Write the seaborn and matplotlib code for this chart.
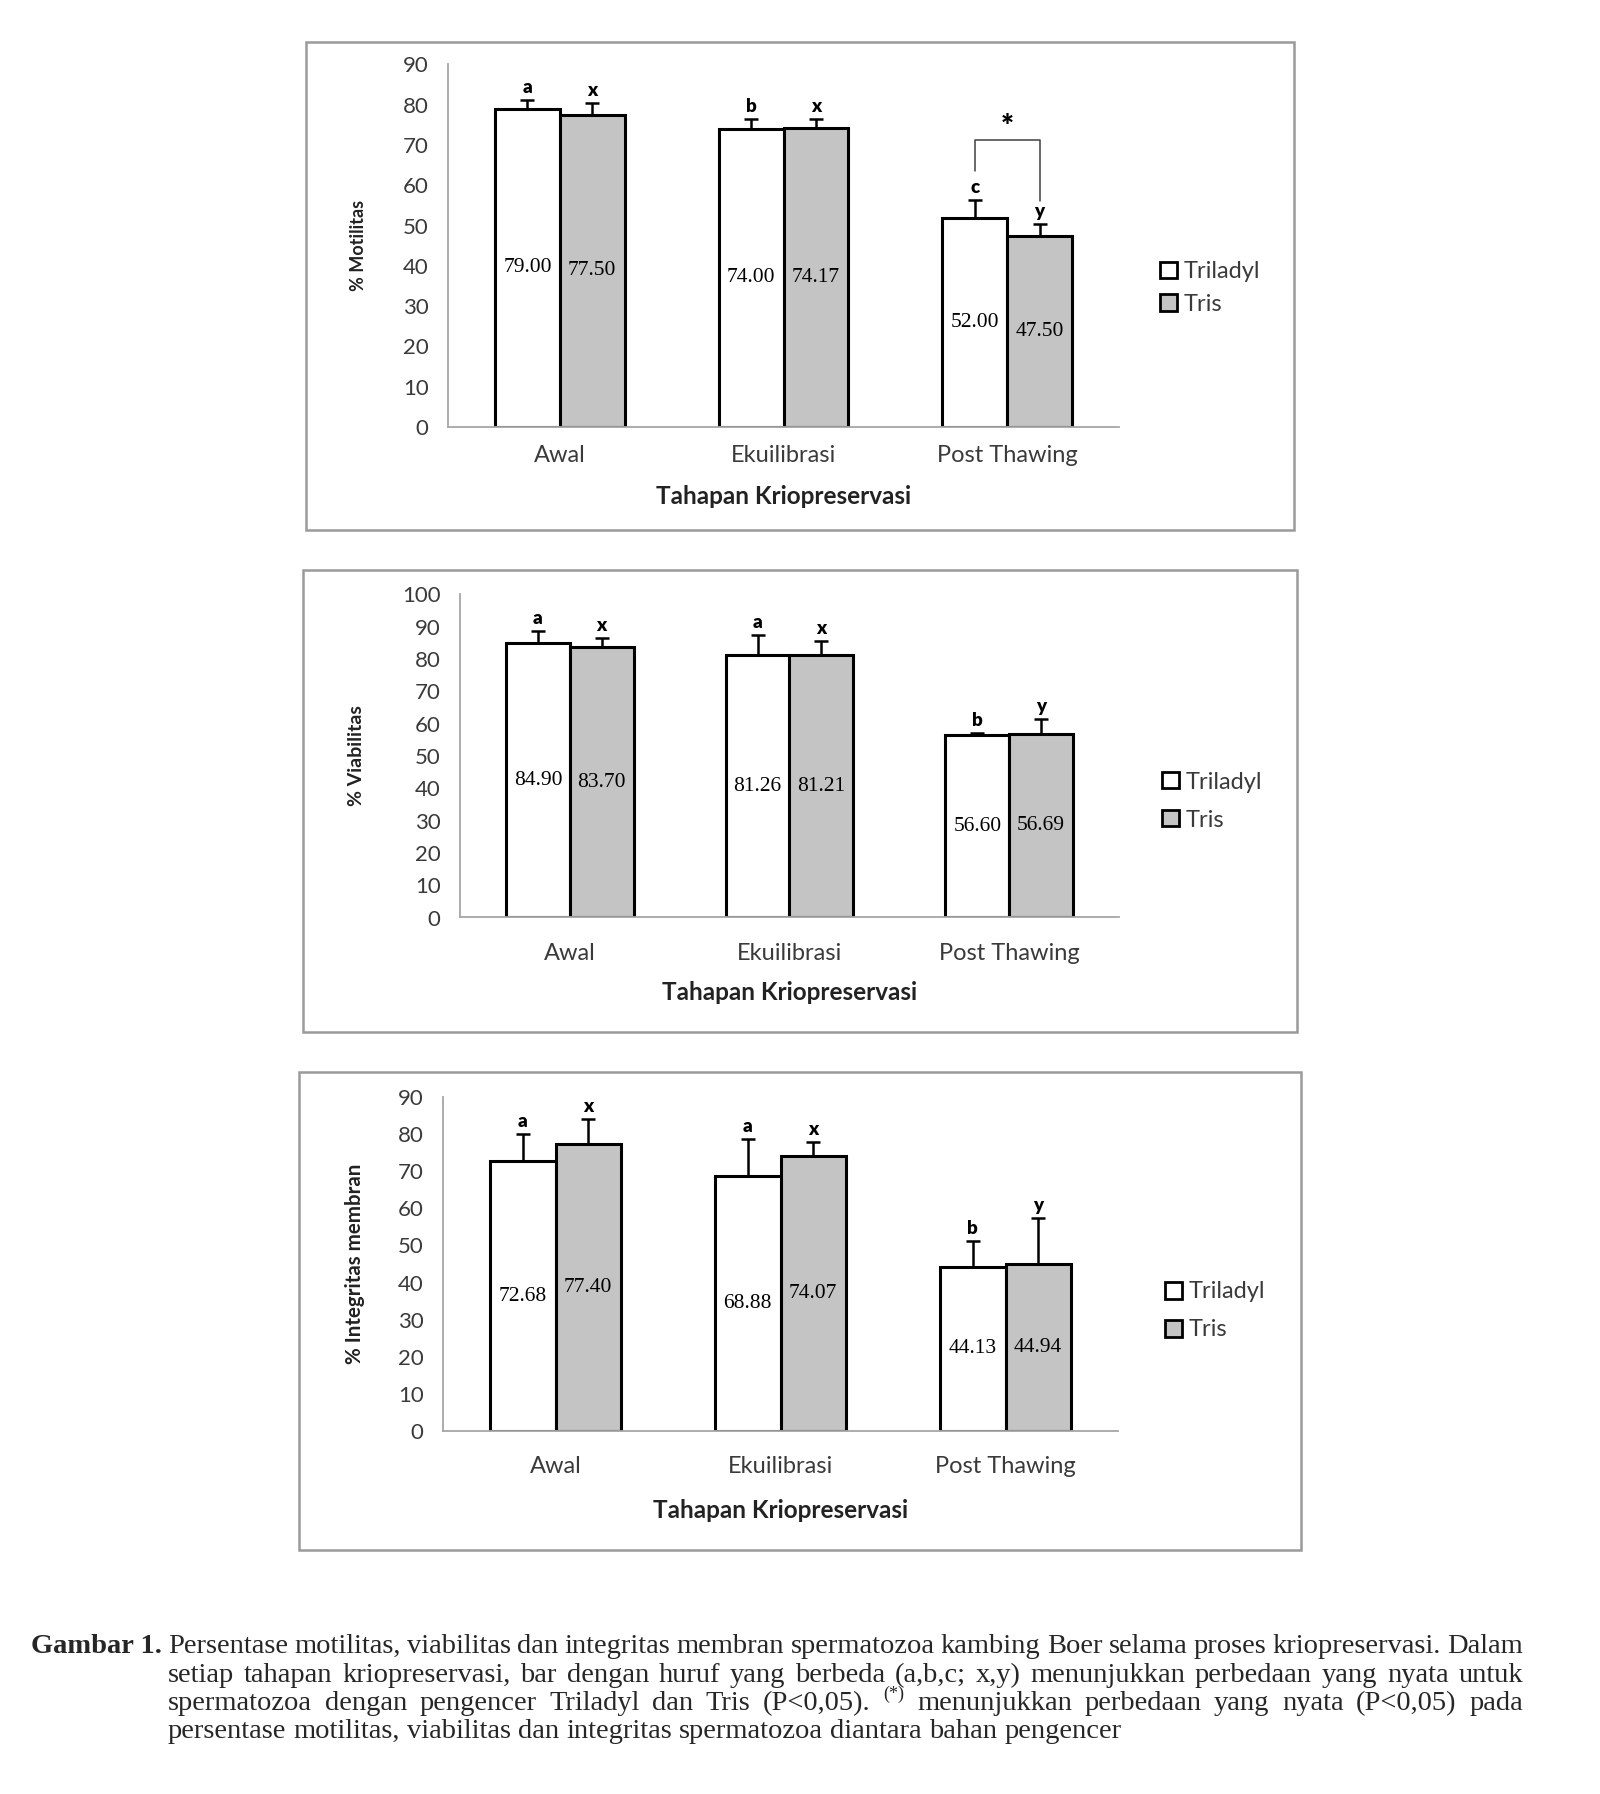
import numpy as np
import pandas as pd
import matplotlib
matplotlib.use("Agg")
import matplotlib.pyplot as plt
from matplotlib.patches import Rectangle, Patch
import seaborn as sns

# ---------------- data ----------------
stages = ["Awal", "Ekuilibrasi", "Post Thawing"]
diluents = ["Triladyl", "Tris"]

motil_triladyl = [79.00, 74.00, 52.00]
motil_tris = [77.50, 74.17, 47.50]
motil_err_triladyl = [2.3, 2.4, 4.3]
motil_err_tris = [3.0, 2.2, 2.8]
motil_let_triladyl = ["a", "b", "c"]
motil_let_tris = ["x", "x", "y"]

viab_triladyl = [84.90, 81.26, 56.60]
viab_tris = [83.70, 81.21, 56.69]
viab_err_triladyl = [3.85, 6.35, 0.6]
viab_err_tris = [2.9, 4.4, 4.8]
viab_let_triladyl = ["a", "a", "b"]
viab_let_tris = ["x", "x", "y"]

integ_triladyl = [72.68, 68.88, 44.13]
integ_tris = [77.40, 74.07, 44.94]
integ_err_triladyl = [7.3, 9.9, 7.2]
integ_err_tris = [6.8, 3.8, 12.5]
integ_let_triladyl = ["a", "a", "b"]
integ_let_tris = ["x", "x", "y"]

ylabels = ["% Motilitas", "% Viabilitas", "% Integritas membran"]
xlabel = "Tahapan Kriopreservasi"

caption_head = "Gambar 1."
caption_lines = [
    "Persentase motilitas, viabilitas dan integritas membran spermatozoa kambing Boer selama proses kriopreservasi. Dalam",
    "setiap tahapan kriopreservasi, bar dengan huruf yang berbeda (a,b,c; x,y) menunjukkan perbedaan yang nyata untuk",
    "spermatozoa dengan pengencer Triladyl dan Tris (P<0,05). ^(*) menunjukkan perbedaan yang nyata (P<0,05) pada",
    "persentase motilitas, viabilitas dan integritas spermatozoa diantara bahan pengencer",
]

# ---------------- style ----------------
sns.set_style("white")
plt.rcParams["font.family"] = ["Lato", "DejaVu Sans"]

W, H = 1600, 1794
fig = plt.figure(figsize=(W / 100, H / 100), dpi=100)
fig.patch.set_facecolor("white")

GRAY = "#c4c4c4"
AXC = "#a6a6a6"
TXT = "#3a3a3a"

panels = [
    dict(tri=motil_triladyl, tris=motil_tris, etri=motil_err_triladyl, etris=motil_err_tris,
         ltri=motil_let_triladyl, ltris=motil_let_tris, ylab=ylabels[0], ymax=90,
         ax=(448, 1119, 64.5, 427), box=(306, 1294, 42, 530), ylab_x=358, ylab_fs=13,
         xt_pad=13, xlab_y=496, leg=(1160, 288), leg_sp=0.5),
    dict(tri=viab_triladyl, tris=viab_tris, etri=viab_err_triladyl, etris=viab_err_tris,
         ltri=viab_let_triladyl, ltris=viab_let_tris, ylab=ylabels[1], ymax=100,
         ax=(460, 1119, 594.5, 917.5), box=(303, 1297, 570, 1032), ylab_x=357, ylab_fs=14,
         xt_pad=18, xlab_y=992, leg=(1162, 801), leg_sp=0.72),
    dict(tri=integ_triladyl, tris=integ_tris, etri=integ_err_triladyl, etris=integ_err_tris,
         ltri=integ_let_triladyl, ltris=integ_let_tris, ylab=ylabels[2], ymax=90,
         ax=(443, 1118, 1097.3, 1430.7), box=(299, 1301, 1072, 1550), ylab_x=355, ylab_fs=14.8,
         xt_pad=18, xlab_y=1510, leg=(1165, 1311), leg_sp=0.72),
]

for pi, p in enumerate(panels):
    x0, x1, yt, yb = p["ax"]
    ax = fig.add_axes([x0 / W, 1 - yb / H, (x1 - x0) / W, (yb - yt) / H])

    df = pd.DataFrame({
        "stage": stages * 2,
        "diluent": [diluents[0]] * 3 + [diluents[1]] * 3,
        "value": list(p["tri"]) + list(p["tris"]),
    })
    sns.barplot(data=df, x="stage", y="value", hue="diluent", order=stages,
                hue_order=diluents, palette={"Triladyl": "white", "Tris": GRAY},
                saturation=1, errorbar=None, width=0.58, gap=0,
                edgecolor="black", linewidth=2.2, legend=False, ax=ax, zorder=2)

    errs = [p["etri"], p["etris"]]
    lets = [p["ltri"], p["ltris"]]
    centers = []
    bar_conts = list(ax.containers)
    for ci, cont in enumerate(bar_conts):
        xs = [b.get_x() + b.get_width() / 2 for b in cont.patches]
        hs = [b.get_height() for b in cont.patches]
        centers.append(xs)
        ax.errorbar(xs, hs, yerr=[np.zeros(len(hs)), errs[ci]], fmt="none",
                    ecolor="black", elinewidth=1.8, capsize=5, capthick=1.8, zorder=3)
        for x, h, e, l in zip(xs, hs, errs[ci], lets[ci]):
            ax.annotate(l, (x, h + e), xytext=(0, 5), textcoords="offset points",
                        ha="center", va="baseline", fontsize=13.5, fontweight="heavy",
                        color="black", annotation_clip=False)
        ax.bar_label(cont, labels=[f"{h:.2f}" for h in hs], label_type="center",
                     fontsize=15.5, family="Liberation Serif", color="black")

    # significance bracket in motility panel
    if pi == 0:
        xl, xr = centers[0][2], centers[1][2]
        ax.plot([xl, xl, xr, xr], [63.5, 71.3, 71.3, 56.0], color="#404040", lw=1.1,
                zorder=3, clip_on=False)
        ax.text((xl + xr) / 2, 74.6, "*", ha="center", va="center", fontsize=22,
                fontweight="heavy", color="black")

    ax.set_xlim(-0.5, 2.5)
    ax.set_ylim(0, p["ymax"])
    ax.set_yticks(np.arange(0, p["ymax"] + 1, 10))
    ax.set_xticks([-0.5, 0.5, 1.5, 2.5])
    ax.set_xticklabels([])
    ax.set_xticks([0, 1, 2], minor=True)
    ax.set_xticklabels(stages, minor=True)
    ax.tick_params(axis="x", which="major", length=5, width=1.2, color=AXC, direction="out")
    ax.tick_params(axis="x", which="minor", length=0, pad=p["xt_pad"], labelsize=17,
                   labelcolor=TXT)
    ax.tick_params(axis="y", length=6, width=1.2, color=AXC, direction="out",
                   labelsize=16, labelcolor=TXT, pad=8)
    for s in ["top", "right"]:
        ax.spines[s].set_visible(False)
    for s in ["left", "bottom"]:
        ax.spines[s].set_color(AXC)
        ax.spines[s].set_linewidth(1.3)
    ax.set_facecolor("none")

    ax.set_ylabel(p["ylab"], fontsize=p["ylab_fs"], fontweight="bold", color="#222222")
    ax.yaxis.label.set_va("center")
    ax.yaxis.set_label_coords(p["ylab_x"] / W, 1 - (yt + yb) / 2 / H, transform=fig.transFigure)
    ax.set_xlabel(xlabel, fontsize=17.5, fontweight="bold", color="#222222")
    ax.xaxis.label.set_va("center")
    ax.xaxis.set_label_coords((x0 + x1) / 2 / W, 1 - p["xlab_y"] / H, transform=fig.transFigure)

    handles = [Patch(facecolor="white", edgecolor="black", linewidth=2),
               Patch(facecolor=GRAY, edgecolor="black", linewidth=2)]
    lx, ly = p["leg"]
    ax.legend(handles, diluents, loc="center left", bbox_to_anchor=(lx / W, 1 - ly / H),
              bbox_transform=fig.transFigure, frameon=False, borderpad=0, borderaxespad=0,
              fontsize=17, handlelength=0.7, handleheight=0.7, handletextpad=0.3,
              labelspacing=p["leg_sp"], labelcolor=TXT)

    bx0, bx1, by0, by1 = p["box"]
    fig.add_artist(Rectangle((bx0 / W, 1 - by1 / H), (bx1 - bx0) / W, (by1 - by0) / H,
                             transform=fig.transFigure, fill=False, ec="#9a9a9a", lw=1.8))

# ---------------- caption (justified) ----------------
FS = 20.5
SERIF = "Liberation Serif"
fig.text(31 / W, 1 - 1653 / H, caption_head, fontsize=FS, family=SERIF, fontweight="bold",
         va="baseline", ha="left")
fig.canvas.draw()
renderer = fig.canvas.get_renderer()
cx0, cx1 = 168, 1523
baselines = [1653, 1682, 1710, 1738]
for li, (line, bl) in enumerate(zip(caption_lines, baselines)):
    toks = line.split(" ")
    texts = []
    for tok in toks:
        if tok.startswith("^"):
            t = fig.text(0, 1 - (bl - 11) / H, tok[1:], fontsize=13, family=SERIF, va="baseline")
        else:
            t = fig.text(0, 1 - bl / H, tok, fontsize=FS, family=SERIF, va="baseline")
        texts.append(t)
    widths = [t.get_window_extent(renderer).width for t in texts]
    if li < len(caption_lines) - 1:
        gap = (cx1 - cx0 - sum(widths)) / (len(texts) - 1)
    else:
        sp = fig.text(0, 0, "a a", fontsize=FS, family=SERIF)
        sp2 = fig.text(0, 0, "aa", fontsize=FS, family=SERIF)
        gap = sp.get_window_extent(renderer).width - sp2.get_window_extent(renderer).width
        sp.remove(); sp2.remove()
    x = cx0
    for t, w in zip(texts, widths):
        t.set_x(x / W)
        x += w + gap

fig.savefig("out.png", dpi=100, facecolor="white")
